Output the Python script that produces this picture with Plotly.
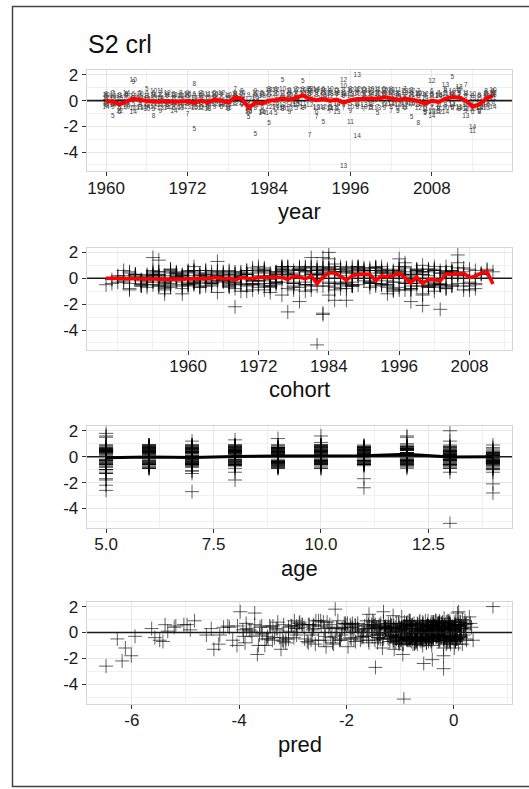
import plotly.graph_objects as go

# ---------------- data ----------------
title_text = "S2 crl"
years = list(range(1960, 2018))
ages = list(range(5, 15))

# residuals, one row per year (ages 5..14)
resid_by_year = [
    [0.3, 0.5, -0.2, -0.4, 0.1, 0.4, -0.3, 0.2, -0.1, -0.5],    # 1960
    [-1.2, 0.2, 0.6, -0.3, -0.5, 0.3, 0.5, -0.2, 0.1, -0.4],
    [-0.6, -0.9, 0.1, 0.4, -0.7, -0.2, 0.3, -0.8, 0.2, -0.3],
    [0.4, -0.2, -0.6, 0.5, 0.3, -0.5, -0.1, 0.2, -0.4, 0.6],
    [-0.3, 0.5, -0.7, 0.2, 1.4, 1.6, 0.1, -0.6, 0.3, -0.9],
    [0.6, 0.1, 0.3, -0.4, -0.2, 0.5, -0.5, 0.2, -0.6, 0.1],
    [0.9, -0.4, -0.6, 0.2, 0.5, -0.7, 0.3, -0.3, 0.1, -0.5],
    [-0.7, 0.6, 0.2, -1.2, 0.4, 0.7, -0.3, -0.5, 0.2, 0.3],
    [0.2, -0.3, 0.6, 0.4, -0.8, 0.1, 0.7, -0.4, -0.6, 0.2],
    [-0.4, 0.3, -0.2, -0.5, 0.5, -0.1, 0.4, 0.6, -0.3, -0.6],
    [0.5, -0.6, 0.1, 0.3, -0.4, -0.5, 0.2, -0.2, 0.4, -0.8],    # 1970
    [-0.2, 0.4, -0.5, 0.6, 0.2, -0.3, -0.6, 0.3, 0.1, -0.5],
    [0.3, -0.1, -1.1, -0.3, 0.6, 0.4, -0.2, 0.5, -0.5, 0.1],
    [-2.2, 0.5, 0.3, 1.3, -0.4, -0.6, 0.2, -0.3, -0.5, 0.2],
    [0.4, -0.5, 0.6, -0.2, 0.2, 0.3, -0.4, -0.6, 0.5, -0.1],
    [-0.5, 0.2, -0.3, -0.6, 0.4, -0.2, 0.5, 0.1, -0.7, -0.4],
    [0.6, 0.3, -0.4, 0.2, -0.5, 0.5, 0.1, -0.3, 0.4, -0.1],
    [-0.2, -0.5, 0.4, 0.5, 0.1, -0.4, -0.3, 0.6, -0.2, 0.0],
    [0.1, -0.7, -0.2, 0.3, -0.5, 0.4, -0.6, -0.1, 0.2, -0.4],
    [0.4, 0.6, 0.9, -0.2, 0.3, 0.1, 0.5, -0.3, 0.2, 0.0],
    [-0.3, 0.2, 0.5, 0.7, -0.4, 0.6, 0.0, 0.3, -0.2, 0.1],      # 1980
    [-1.3, -0.4, -1.1, -0.2, 0.4, -0.9, -0.6, 0.1, -0.8, -0.7],
    [-2.6, 0.5, 0.3, -0.6, 0.7, 0.2, -0.4, 0.6, 0.1, -0.3],
    [0.6, -0.8, -0.3, 0.4, -0.6, -0.9, 0.5, -0.2, 0.3, -1.0],
    [-1.8, 0.4, 0.7, 0.9, -0.3, 0.2, 0.6, -0.5, 0.8, -1.0],
    [-1.0, 0.9, -0.4, 0.3, 0.7, 0.5, -0.6, 0.8, -0.2, -0.5],
    [1.6, -0.5, 0.6, -0.7, 0.3, 0.9, 0.5, -0.4, -0.6, 0.1],
    [0.2, 0.8, -0.5, 0.6, -0.9, 0.4, 0.7, 0.3, -0.7, -0.4],
    [-0.6, 0.3, 0.9, 0.5, 0.7, -0.4, 0.2, 0.8, -0.3, -0.1],
    [1.5, 0.4, 0.7, -0.6, 0.9, 0.8, -0.3, 0.5, 0.6, -0.5],
    [0.5, 0.8, -2.7, 0.9, 0.3, 0.6, 0.7, -0.4, 0.9, 0.1],       # 1990
    [0.7, -0.9, -1.3, 0.4, 0.6, -0.5, 0.8, 0.2, -0.6, 0.9],
    [-1.7, 0.9, 0.5, -0.6, 0.8, 0.3, 0.6, -0.5, 0.7, 0.3],
    [-0.5, 0.6, -0.8, 0.7, -0.4, 0.9, -0.6, 0.3, 0.5, -0.7],
    [0.8, -0.6, 0.4, 0.5, -0.7, -0.3, 0.7, 0.6, -0.9, -0.3],
    [0.5, 0.3, -0.6, 0.8, -0.4, 1.1, 0.6, 1.6, -5.15, 0.4],
    [-0.3, 0.7, 0.4, 0.9, -0.8, -0.5, -1.7, 0.8, 0.5, 0.3],
    [0.6, -0.4, 0.8, -0.5, 0.7, 0.5, -0.3, 0.9, 2.0, -2.8],
    [0.4, 0.9, -0.7, 0.3, 0.6, -0.5, 0.8, 0.2, -0.4, 0.7],
    [-0.5, 0.6, 0.8, -0.4, 0.3, 0.9, -0.6, -0.3, 0.7, 0.5],
    [-1.0, 0.4, -0.5, 0.8, 0.6, 0.2, 0.9, 0.5, -0.6, 0.0],      # 2000
    [0.9, -0.3, 0.6, 0.5, -0.6, 0.8, 0.3, 0.7, 0.4, -0.4],
    [0.3, 0.7, -0.8, -0.5, 0.9, 0.4, -0.3, 0.6, 0.8, -0.3],
    [-0.8, 0.5, 0.3, 0.6, -0.7, -0.4, 0.8, -0.3, 0.2, 0.3],
    [0.7, -0.6, 0.9, 0.4, 0.2, 0.7, -0.5, -0.4, 0.6, -0.2],
    [-1.3, 0.6, -0.4, 0.8, 0.5, -0.3, 0.4, 0.7, -0.2, 0.2],
    [0.5, 0.3, 0.7, -1.8, -0.4, 0.6, 0.2, -0.6, 0.5, -0.4],
    [-1.0, -0.6, 0.3, 0.4, -0.9, -0.3, -0.7, 0.5, -0.2, 0.2],
    [0.4, 0.7, -0.6, 0.5, -0.4, -0.8, 0.3, 1.5, -0.9, -1.2],
    [-0.8, -0.5, 0.6, -0.7, 0.5, 0.3, -0.4, -0.9, 0.4, 0.3],
    [0.6, 0.9, -0.5, -0.4, 0.7, -0.6, 0.5, 0.2, 1.2, -0.9],     # 2010
    [1.8, -0.6, 0.5, 0.4, -0.5, 0.7, -0.3, 0.6, 0.3, -0.4],
    [0.5, 0.8, 0.4, -0.7, 0.6, 0.9, -0.5, 1.0, -0.6, 0.1],
    [-0.6, 0.3, 1.2, 0.5, -0.8, -0.4, 0.6, -0.7, -1.2, -0.2],
    [-0.4, -0.9, -0.6, 0.3, -0.5, 0.5, -2.4, -0.7, 0.2, -2.1],
    [0.3, -0.8, -0.4, -0.9, 0.4, -0.6, 0.2, -0.5, -0.3, -0.6],
    [0.6, 0.4, -0.5, 0.7, 0.2, -0.4, 0.5, 0.3, -0.6, -0.2],
    [0.5, 0.7, 0.3, 0.6, -0.3, 0.8, 0.2, 0.6, 0.4, -0.5],       # 2017
]

# predicted values, one list per age (years 1960..2017)
pred_by_age = {
    5: [-5.63, -6.12, -5.48, -5.21, -5.94, -4.97, -4.83, -5.42, -4.91, -5.57,
        -5.18, -4.36, -4.52, -6.18, -4.29, -6.27, -5.03, -4.61, -5.33, -4.18,
        -3.92, -4.47, -6.48, -5.38, -6.01, -4.04, -3.98, -3.81, -4.12, -3.71,
        -3.58, -3.87, -3.66, -3.49, -3.28, -3.43, -3.76, -3.17, -3.61, -3.08,
        -3.52, -2.97, -3.31, -3.89, -2.88, -3.22, -3.03, -3.64, -2.79, -3.13,
        -2.71, -2.21, -2.93, -3.38, -3.24, -2.96, -2.83, -2.62],
    6: [-4.21, -3.93, -4.38, -3.62, -4.03, -3.78, -3.34, -3.71, -3.47, -3.86,
        -3.19, -3.42, -3.57, -3.02, -3.13, -3.29, -2.91, -3.46, -3.17, -2.82,
        -2.63, -2.98, -3.37, -2.71, -3.08, -2.52, -2.78, -2.43, -2.61, -2.33,
        -2.87, -2.24, -2.48, -2.69, -2.13, -2.41, -2.04, -2.29, -2.57, -1.93,
        -2.18, -2.39, -2.02, -2.47, -2.11, -1.84, -2.27, -2.66, -1.98, -1.91,
        -2.16, -1.74, -2.36, -2.08, -2.58, -2.26, -1.89, -1.79],
    7: [-2.93, -2.61, -3.08, -2.42, -2.73, -2.18, -2.52, -2.03, -2.31, -2.64,
        -1.88, -2.12, -2.38, -1.79, -2.01, -2.21, -1.71, -1.92, -2.09, -1.62,
        -1.83, -1.97, -1.53, -1.68, -1.89, -1.41, -1.59, -1.32, -1.51, -1.22,
        -1.46, -1.11, -1.37, -1.58, -1.19, -1.03, -1.28, -1.49, -1.13, -0.92,
        -1.21, -1.39, -1.02, -1.27, -0.83, -1.08, -1.36, -1.61, -0.98, -1.17,
        -0.91, -1.12, -1.29, -0.97, -1.47, -1.23, -0.88, -0.79],
    8: [-1.93, -1.62, -2.04, -1.48, -1.77, -1.41, -1.68, -1.33, -1.57, -1.86,
        -1.22, -1.46, -1.71, -1.13, -1.38, -1.59, -1.04, -1.27, -1.52, -0.93,
        -1.18, -1.43, -0.84, -1.09, -1.31, -0.72, -1.02, -0.88, -1.16, -0.63,
        -0.81, -0.97, -0.54, -0.74, -0.91, -0.58, -0.83, -0.46, -0.69, -0.52,
        -0.87, -0.36, -0.61, -0.78, -0.43, -0.64, -0.19, -0.89, -0.49, -0.71,
        -0.33, -0.57, -0.42, -0.79, -0.51, -0.68, -0.29, -0.38],
    9: [-1.71, -1.37, -1.83, -1.26, -1.58, -1.17, -1.49, -1.28, -1.42, -1.66,
        -1.08, -1.36, -1.53, -0.97, -1.27, -1.41, -0.86, -1.19, -1.32, -0.77,
        -1.06, -1.29, -0.68, -0.99, -1.18, -0.57, -0.92, -0.76, -1.07, -0.48,
        -0.71, -0.88, -0.37, -0.62, -0.79, -0.46, -0.73, -0.28, -0.58, -0.41,
        -0.82, -0.17, -0.53, -0.69, -0.31, -0.47, -0.83, -0.94, -0.39, -0.61,
        -0.22, -0.51, -0.27, -0.72, -0.38, -0.63, -0.18, -0.33],
    10: [-1.44, -1.12, -1.52, -0.98, -1.31, -0.87, -1.19, -1.03, -1.09, -1.38,
         -0.83, -1.07, -1.23, -0.68, -0.96, -1.14, -0.58, -0.89, -1.01, -0.52,
         -0.77, -1.02, -0.42, -0.73, -0.88, -0.31, -0.63, -0.47, -0.81, -0.21,
         -0.43, -0.58, -0.12, -0.34, -0.52, -0.18, -0.41, -0.03, -0.29, -0.11,
         -0.54, 0.02, -0.23, -0.42, -0.08, -0.32, -0.49, -0.62, -0.13, -0.38,
         0.03, -0.27, -0.09, -0.53, -0.21, -0.44, -0.02, -0.14],
    11: [-1.18, -0.93, -1.27, -0.79, -1.06, -0.72, -0.98, -0.83, -0.88, -1.21,
         -0.62, -0.87, -1.03, -0.49, -0.78, -0.92, -0.37, -0.71, -0.81, -0.28,
         -0.59, -0.82, -0.19, -0.51, -0.67, -0.09, -0.44, -0.27, -0.61, 0.04,
         -0.23, -0.38, 0.08, -0.13, -0.31, 0.01, -0.95, 0.12, -0.07, 0.03,
         -0.33, 0.14, -0.06, -0.26, 0.06, -0.17, -0.36, -0.47, 0.02, -0.24,
         0.11, -0.16, 0.05, -0.39, -0.56, -0.28, 0.09, -0.02],
    12: [-0.97, -0.71, -1.08, -0.58, -0.87, -0.52, -0.79, -0.61, -0.69, -1.02,
         -0.41, -0.68, -0.83, -0.29, -0.57, -0.72, -0.18, -0.49, -0.63, -0.08,
         -0.38, -0.61, 0.03, -0.31, -0.48, 0.12, -0.22, -0.07, -0.42, 0.14,
         -0.04, -0.19, 0.23, 0.02, -0.16, 0.09, -0.11, 0.21, -0.02, 0.13,
         -0.17, 0.24, 0.04, -0.18, 0.11, -0.09, -0.27, -0.36, 0.07, -0.14,
         0.22, -0.06, 0.16, -0.28, 0.03, -0.19, 0.19, 0.08],
    13: [-0.88, -0.62, -0.99, -0.47, -0.76, -0.41, -0.68, -0.52, -0.58, -0.91,
         -0.32, -0.57, -0.73, -0.19, -0.47, -0.61, -0.09, -0.38, -0.53, 0.02,
         -0.28, -0.51, 0.11, -0.21, -0.39, 0.19, -0.12, 0.03, -0.31, 0.22,
         0.04, -0.08, 0.31, 0.09, -0.06, -0.93, 0.02, 0.73, 0.07, 0.21,
         -0.07, 0.33, 0.12, -0.09, 0.19, 0.01, -0.18, -0.27, 0.16, -0.04,
         0.29, 0.03, 0.24, -0.19, -0.48, -0.11, 0.36, 0.18],
    14: [-1.07, -0.81, -1.16, -0.67, -0.96, -0.62, -0.88, -0.71, -0.78, -1.12,
         -0.51, -0.77, -0.92, -0.39, -0.66, -0.81, -0.28, -0.58, -0.72, -0.17,
         -0.48, -0.69, -0.07, -0.41, -0.58, 0.03, -0.32, -0.16, -0.51, 0.06,
         -0.14, -0.27, 0.14, -0.06, -0.24, 0.02, -0.21, -0.19, -0.09, 0.04,
         -0.26, 0.13, -0.08, -0.29, 0.05, -0.17, -0.38, -0.44, 0.01, -0.23,
         0.09, -0.18, 0.02, -0.37, -0.4, -0.26, 0.12, -0.01],
}

# mean residual lines
year_mean = [0.0, -0.08, -0.28, -0.05, 0.15, 0.05, -0.05, -0.08, -0.08, -0.03,
             -0.1, -0.05, -0.03, -0.18, 0.03, -0.13, 0.08, 0.0, -0.15, 0.25,
             0.15, -0.55, -0.15, -0.23, 0.0, 0.05, 0.18, 0.05, 0.2, 0.4,
             0.15, 0.03, 0.13, 0.0, 0.08, -0.15, 0.03, 0.13, 0.13, 0.18,
             0.13, 0.28, 0.18, 0.05, 0.15, 0.1, -0.03, -0.23, 0.0, -0.1,
             0.15, 0.28, 0.25, 0.0, -0.45, -0.3, 0.15, 0.4]
cohorts = list(range(1946, 2013))
cohort_mean = [0.0, 0.0, 0.0, 0.0,
               0.0, -0.03, -0.03, -0.05, -0.05, -0.08, -0.05, -0.08, -0.05, -0.08,
               -0.05, -0.03, 0.0, -0.03, 0.02, 0.05, -0.05, 0.0, -0.15, 0.05,
               0.0, -0.03, 0.05, 0.08, 0.05, 0.1, 0.08, -0.1, 0.15, 0.1,
               -0.05, 0.2, -0.43, 0.1, 0.4, 0.4, 0.15, -0.15, 0.2, 0.3,
               0.33, 0.3, -0.2, 0.2, 0.1, 0.2, 0.4, 0.05, -0.35, 0.1,
               -0.4, -0.1, -0.1, -0.2, 0.33, 0.3, 0.35, 0.4, 0.05, 0.15,
               0.4, 0.5, -0.45]
age_mean = [-0.08, -0.03, -0.07, 0.02, 0.05, 0.05, 0.08, 0.18, -0.03, 0.0]

# axis ticks
resid_ticks = [-4, -2, 0, 2]
resid_tick_text = ["-4", "-2", "0", "2"]
resid_minor = [-5, -3, -1, 1]
year_ticks = [1960, 1972, 1984, 1996, 2008]
year_minor = [1966, 1978, 1990, 2002, 2014]
cohort_ticks = [1960, 1972, 1984, 1996, 2008]
cohort_minor = [1948, 1954, 1966, 1978, 1990, 2002, 2014]
age_ticks = [5.0, 7.5, 10.0, 12.5]
age_tick_text = ["5.0", "7.5", "10.0", "12.5"]
age_minor = [6.25, 8.75, 11.25, 13.75]
pred_ticks = [-6, -4, -2, 0]
pred_tick_text = ["-6", "-4", "-2", "0"]
pred_minor = [-5, -3, -1, 1]

assert len(resid_by_year) == len(years)
assert all(len(r) == len(ages) for r in resid_by_year)
assert all(len(v) == len(years) for v in pred_by_age.values())
assert len(year_mean) == len(years) and len(cohort_mean) == len(cohorts)

# ---------------- long form ----------------
L_year, L_age, L_coh, L_res, L_pred, L_lab = [], [], [], [], [], []
for yi, yr in enumerate(years):
    for ai, a in enumerate(ages):
        L_year.append(yr)
        L_age.append(a)
        L_coh.append(yr - a)
        L_res.append(resid_by_year[yi][ai])
        L_pred.append(pred_by_age[a][yi])
        L_lab.append(str(a))


def expand(vals, f=0.05):
    lo, hi = min(vals), max(vals)
    w = hi - lo
    return [lo - f * w, hi + f * w]


W, H = 529, 789
FONT = "Liberation Sans, Arial, sans-serif"
x_dom = [86.7 / W, 512.3 / W]
panels_px = [(66.7, 168.3), (245.0, 347.3), (424.3, 526.7), (601.0, 703.3)]
y_doms = [[1 - b / H, 1 - t / H] for (t, b) in panels_px]

x_ranges = [expand(years), expand(cohorts), expand(ages), expand(L_pred)]
y_range = expand(L_res)

fig = go.Figure()

cross = dict(symbol="cross-thin", size=10, color="rgba(0,0,0,0.62)",
             line=dict(width=1, color="rgba(0,0,0,0.62)"))
zero_line = dict(color="#1a1a1a", width=1.6)


def hline(i):
    sx = "" if i == 0 else str(i + 1)
    return go.Scatter(x=x_ranges[i], y=[0, 0], mode="lines", line=zero_line,
                      xaxis="x" + sx, yaxis="y" + sx, hoverinfo="skip")


# panel 1: year (text labels)
fig.add_trace(go.Scatter(x=L_year, y=L_res, text=L_lab, mode="text", opacity=0.85,
                         textfont=dict(size=6.5, color="#202020", family=FONT),
                         xaxis="x", yaxis="y", hoverinfo="skip"))
fig.add_trace(hline(0))
fig.add_trace(go.Scatter(x=years, y=year_mean, mode="lines",
                         line=dict(color="#FF0000", width=4), xaxis="x", yaxis="y"))
# panel 2: cohort
fig.add_trace(go.Scatter(x=L_coh, y=L_res, mode="markers", marker=cross,
                         xaxis="x2", yaxis="y2"))
fig.add_trace(hline(1))
fig.add_trace(go.Scatter(x=cohorts, y=cohort_mean, mode="lines",
                         line=dict(color="#FF0000", width=3.5), xaxis="x2", yaxis="y2"))
# panel 3: age
fig.add_trace(go.Scatter(x=L_age, y=L_res, mode="markers", marker=cross,
                         xaxis="x3", yaxis="y3"))
fig.add_trace(hline(2))
fig.add_trace(go.Scatter(x=ages, y=age_mean, mode="lines",
                         line=dict(color="#000000", width=3), xaxis="x3", yaxis="y3"))
# panel 4: pred
fig.add_trace(go.Scatter(x=L_pred, y=L_res, mode="markers", marker=cross,
                         xaxis="x4", yaxis="y4"))
fig.add_trace(hline(3))

common = dict(showgrid=True, gridcolor="#E6E6E6", gridwidth=1,
              showline=True, linecolor="#D4D4D4", linewidth=1, mirror=True,
              ticks="outside", ticklen=4, tickcolor="#333333", tickwidth=1,
              tickfont=dict(family=FONT, size=17, color="#1a1a1a"),
              zeroline=False, fixedrange=True)

x_specs = [
    (year_ticks, [str(v) for v in year_ticks], year_minor),
    (cohort_ticks, [str(v) for v in cohort_ticks], cohort_minor),
    (age_ticks, age_tick_text, age_minor),
    (pred_ticks, pred_tick_text, pred_minor),
]
layout = {}
for i in range(4):
    sx = "" if i == 0 else str(i + 1)
    tv, tt, mn = x_specs[i]
    layout["xaxis" + sx] = dict(common, domain=x_dom, anchor="y" + sx, range=x_ranges[i],
                                tickmode="array", tickvals=tv, ticktext=tt,
                                ticklabelstandoff=-3,
                                minor=dict(tickmode="array", tickvals=mn, showgrid=True,
                                           gridcolor="#F0F0F0", gridwidth=1, ticks=""))
    layout["yaxis" + sx] = dict(common, domain=y_doms[i], anchor="x" + sx, range=y_range,
                                tickmode="array", tickvals=resid_ticks, ticktext=resid_tick_text,
                                minor=dict(tickmode="array", tickvals=resid_minor, showgrid=True,
                                           gridcolor="#F0F0F0", gridwidth=1, ticks=""))

shapes = [dict(type="rect", xref="paper", yref="paper",
               x0=12.5 / W, x1=1.2, y0=1 - 786.5 / H, y1=1 - 2.5 / H,
               line=dict(color="#444444", width=1.5))]

axis_titles = ["year", "cohort", "age", "pred"]
annotations = [dict(text=title_text, xref="paper", yref="paper", x=86 / W, y=1 - 40 / H,
                    xanchor="left", yanchor="middle", showarrow=False,
                    font=dict(family=FONT, size=25, color="#111111"))]
for i, t in enumerate(axis_titles):
    bottom = panels_px[i][1]
    annotations.append(dict(text=t, xref="paper", yref="paper",
                            x=(x_dom[0] + x_dom[1]) / 2, y=1 - (bottom + 40.5) / H,
                            xanchor="center", yanchor="middle", showarrow=False,
                            font=dict(family=FONT, size=22, color="#111111")))

fig.update_layout(width=W, height=H, margin=dict(l=0, r=0, t=0, b=0),
                  paper_bgcolor="white", plot_bgcolor="white", showlegend=False,
                  font=dict(family=FONT), shapes=shapes, annotations=annotations,
                  **layout)

fig.write_html("out.html", config={"displayModeBar": False},
               post_script="document.body.style.margin='0px';document.body.style.overflow='hidden';")
